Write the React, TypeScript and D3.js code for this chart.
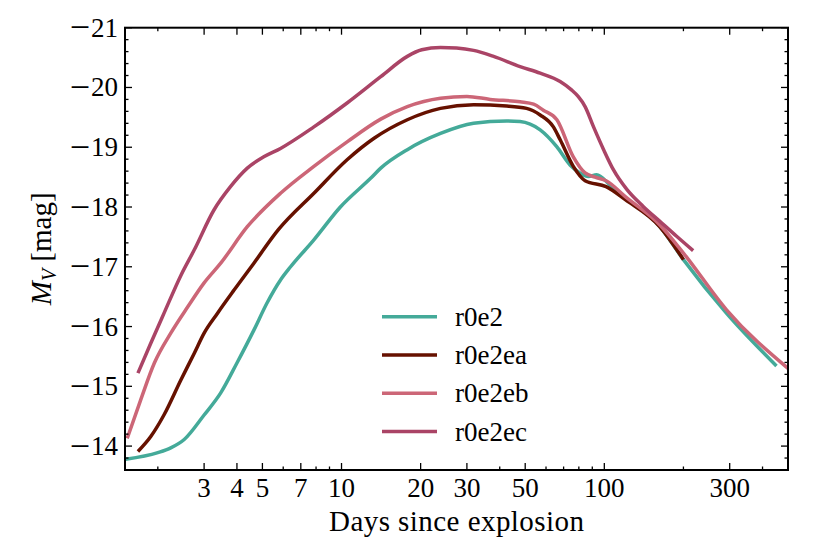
import React from "react";
import * as d3 from "d3";

const seriesNames = ["r0e2", "r0e2ea", "r0e2eb", "r0e2ec"];
const seriesColors = ["#44AA99", "#661100", "#CC6677", "#AA4466"];

const daysR0e2 = [1.51, 2.0, 2.24, 2.52, 3.0, 3.47, 4.0, 4.64, 5.2, 5.86, 6.4, 7.85, 9.9, 12.9, 14.1, 17.8, 23.8, 31.8, 42.5, 47.8, 57, 65.9, 74.2, 80.8, 87, 93.5, 105, 120.5, 162, 200, 292, 452];
const magR0e2 = [-13.78, -13.89, -13.97, -14.11, -14.52, -14.89, -15.39, -15.94, -16.39, -16.78, -17.0, -17.45, -18.0, -18.48, -18.65, -18.96, -19.23, -19.4, -19.44, -19.43, -19.29, -19.01, -18.7, -18.57, -18.51, -18.54, -18.37, -18.15, -17.68, -17.12, -16.22, -15.34];

const daysR0e2ea = [1.68, 1.88, 2.11, 2.45, 2.75, 3.0, 3.37, 3.9, 4.64, 5.75, 7.85, 10.5, 13.3, 17.8, 23.8, 31.8, 42.5, 50.6, 57, 64, 68, 76.2, 84.5, 101.6, 120.5, 162.7, 200];
const magR0e2ea = [-13.91, -14.16, -14.52, -15.11, -15.55, -15.89, -16.22, -16.61, -17.06, -17.62, -18.23, -18.79, -19.15, -19.46, -19.65, -19.71, -19.69, -19.65, -19.54, -19.34, -19.12, -18.68, -18.44, -18.34, -18.12, -17.67, -17.12];

const daysR0e2eb = [1.53, 1.72, 1.94, 2.24, 2.6, 3.0, 3.47, 4.38, 5.86, 7.85, 10.5, 14.1, 17.8, 23.8, 30, 36.8, 47.8, 53.8, 58.6, 66, 76.2, 84.5, 92.2, 101.6, 120.5, 162.7, 200, 291.7, 500];
const magR0e2eb = [-14.13, -14.77, -15.39, -15.89, -16.33, -16.73, -17.06, -17.67, -18.23, -18.68, -19.09, -19.47, -19.68, -19.82, -19.85, -19.8, -19.76, -19.72, -19.62, -19.46, -18.84, -18.57, -18.5, -18.44, -18.17, -17.7, -17.23, -16.28, -15.3];

const daysR0e2ec = [1.68, 1.88, 2.11, 2.45, 2.75, 3.27, 3.78, 4.38, 5.06, 5.86, 7.85, 10.5, 14.1, 17.8, 20.2, 23.8, 27.4, 31.8, 37.9, 47.8, 57, 67.9, 75, 79.5, 84.5, 91, 99.6, 108.4, 122, 140.6, 162.7, 188.4, 217.8];
const magR0e2ec = [-15.22, -15.72, -16.22, -16.86, -17.28, -17.95, -18.34, -18.65, -18.84, -18.98, -19.34, -19.74, -20.18, -20.52, -20.63, -20.67, -20.66, -20.62, -20.52, -20.35, -20.24, -20.1, -19.96, -19.85, -19.68, -19.34, -18.95, -18.62, -18.29, -18.01, -17.76, -17.51, -17.27];

const xMajorTicks = [3, 4, 5, 7, 10, 20, 30, 50, 100, 300];
const xMinorTicks = [2, 6, 8, 9, 40, 60, 70, 80, 90, 200, 400];
const yMajorTicks = [-21, -20, -19, -18, -17, -16, -15, -14];

const W = 830, H = 554;
const M = { left: 125, right: 788, top: 27.7, bottom: 470 };
const FONT = "'Liberation Serif', 'DejaVu Serif', serif";

export default function App() {
  const x = d3.scaleLog().domain([1.5, 500]).range([M.left, M.right]);
  const y = d3.scaleLinear().domain([-21, -13.6]).range([M.top, M.bottom]);

  const series = [
    { d: daysR0e2, m: magR0e2 },
    { d: daysR0e2ea, m: magR0e2ea },
    { d: daysR0e2eb, m: magR0e2eb },
    { d: daysR0e2ec, m: magR0e2ec },
  ];
  const line = d3
    .line<[number, number]>()
    .x((p) => x(p[0]))
    .y((p) => y(p[1]))
    .curve(d3.curveMonotoneX);

  const yMinor = d3.range(-21, -13.6 + 1e-6, 0.2).filter(
    (v) => Math.abs(v - Math.round(v)) > 1e-6
  );

  const majLen = 7, minLen = 3.5;
  const tickStroke = { stroke: "#000", strokeWidth: 1.3 };

  const legendX0 = 382, legendX1 = 437, legendTextX = 455, legendY0 = 316.7, legendDY = 38.3;

  return (
    <svg
      width={W}
      height={H}
      style={{ position: "absolute", left: 0, top: 0, background: "#fff" }}
      fontFamily={FONT}
    >
      <defs>
        <clipPath id="plotclip">
          <rect x={M.left} y={M.top} width={M.right - M.left} height={M.bottom - M.top} />
        </clipPath>
      </defs>

      <g clipPath="url(#plotclip)">
        {series.map((s, i) => (
          <path
            key={seriesNames[i]}
            d={line(s.d.map((dd, j) => [dd, s.m[j]] as [number, number])) || ""}
            fill="none"
            stroke={seriesColors[i]}
            strokeWidth={3.5}
            strokeLinejoin="round"
          />
        ))}
      </g>

      {/* ticks */}
      {xMajorTicks.map((t) => (
        <g key={"xM" + t}>
          <line x1={x(t)} x2={x(t)} y1={M.bottom} y2={M.bottom - majLen} {...tickStroke} />
          <line x1={x(t)} x2={x(t)} y1={M.top} y2={M.top + majLen} {...tickStroke} />
          <text x={x(t)} y={497} textAnchor="middle" fontSize={27}>
            {t}
          </text>
        </g>
      ))}
      {xMinorTicks.map((t) => (
        <g key={"xm" + t}>
          <line x1={x(t)} x2={x(t)} y1={M.bottom} y2={M.bottom - minLen} {...tickStroke} />
          <line x1={x(t)} x2={x(t)} y1={M.top} y2={M.top + minLen} {...tickStroke} />
        </g>
      ))}
      {yMajorTicks.map((t) => (
        <g key={"yM" + t}>
          <line x1={M.left} x2={M.left + majLen} y1={y(t)} y2={y(t)} {...tickStroke} />
          <line x1={M.right} x2={M.right - majLen} y1={y(t)} y2={y(t)} {...tickStroke} />
          <text x={118} y={y(t) + 9} textAnchor="end" fontSize={27}>
            <tspan fontSize={36} dy={2.5}>
              {"\u2212"}
            </tspan>
            <tspan dx={1} dy={-2.5}>{String(Math.abs(t))}</tspan>
          </text>
        </g>
      ))}
      {yMinor.map((t, i) => (
        <g key={"ym" + i}>
          <line x1={M.left} x2={M.left + minLen} y1={y(t)} y2={y(t)} {...tickStroke} />
          <line x1={M.right} x2={M.right - minLen} y1={y(t)} y2={y(t)} {...tickStroke} />
        </g>
      ))}

      <rect
        x={M.left}
        y={M.top}
        width={M.right - M.left}
        height={M.bottom - M.top}
        fill="none"
        stroke="#000"
        strokeWidth={2}
      />

      {/* axis labels */}
      <text
        x={(M.left + M.right) / 2}
        y={531}
        textAnchor="middle"
        fontSize={29}
        textLength={255}
        lengthAdjust="spacing"
      >
        Days since explosion
      </text>
      <text
        transform={`translate(51, ${(M.top + M.bottom) / 2}) rotate(-90)`}
        textAnchor="middle"
        fontSize={29}
      >
        <tspan fontStyle="italic">M</tspan>
        <tspan fontStyle="italic" fontSize={20} dy={5}>
          V
        </tspan>
        <tspan dy={-5}>{"\u00a0[mag]"}</tspan>
      </text>

      {/* legend */}
      {seriesNames.map((n, i) => (
        <g key={"lg" + n}>
          <line
            x1={legendX0}
            x2={legendX1}
            y1={legendY0 + i * legendDY}
            y2={legendY0 + i * legendDY}
            stroke={seriesColors[i]}
            strokeWidth={3.5}
          />
          <text x={legendTextX} y={legendY0 + i * legendDY + 9} fontSize={27}>
            {n}
          </text>
        </g>
      ))}
    </svg>
  );
}
